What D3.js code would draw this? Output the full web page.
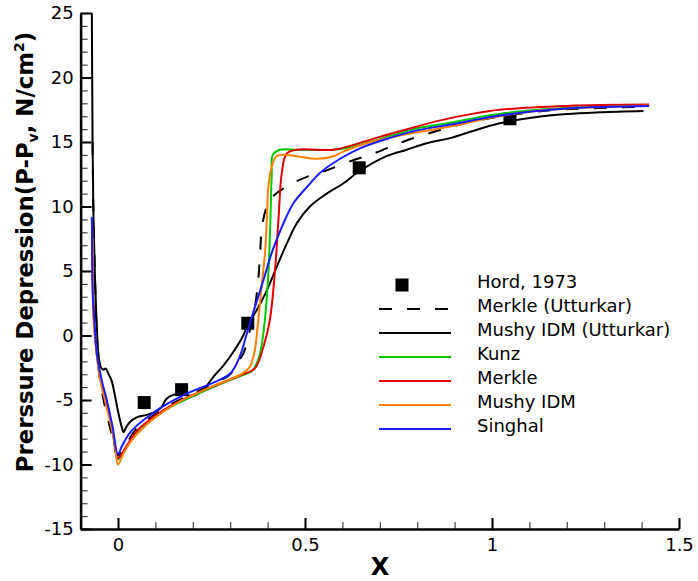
<!DOCTYPE html>
<html>
<head>
<meta charset="utf-8">
<script src="https://cdn.jsdelivr.net/npm/d3@7"></script>
<style>
  body { margin: 0; background: #fff; }
  svg { display: block; }
</style>
</head>
<body>
<svg id="chart" width="698" height="581"></svg>
<script>
// data, [x, pressure]
var hord = [[0.07, -5.2], [0.17, -4.2], [0.347, 0.95], [0.645, 13.0], [1.048, 16.8]];

var merkleUtt = [[-0.068, 15], [-0.066, 10], [-0.062, 5], [-0.058, 1], [-0.052, -2.5], [-0.04, -4.8],
  [-0.02, -7.3], [0, -9.3], [0.02, -8.5], [0.05, -7.2], [0.1, -6.1], [0.15, -5.2], [0.2, -4.5],
  [0.25, -3.8], [0.3, -3.0], [0.317, -2.2], [0.335, -1.4], [0.35, 0.1], [0.366, 2.2], [0.375, 4.3],
  [0.38, 6.4], [0.385, 8.4], [0.398, 10.0], [0.415, 10.8], [0.46, 11.7], [0.505, 12.3], [0.558, 12.8],
  [0.62, 13.5], [0.683, 14.1], [0.77, 15.1], [0.87, 16.0], [0.95, 16.6], [1.05, 17.1], [1.15, 17.45],
  [1.25, 17.6], [1.35, 17.7], [1.42, 17.75]];

var mushyUtt = [[-0.07, 25], [-0.069, 20], [-0.068, 15], [-0.066, 10], [-0.062, 5], [-0.057, 1],
  [-0.052, -1.5], [-0.045, -2.5], [-0.038, -2.65], [-0.033, -2.55], [-0.025, -3.0], [-0.017, -3.5],
  [-0.008, -4.7], [0.001, -6.0], [0.01, -7.1], [0.015, -7.5], [0.022, -7.1], [0.032, -6.7],
  [0.05, -6.35], [0.077, -6.15], [0.1, -5.9], [0.115, -5.6], [0.13, -4.9], [0.148, -4.6],
  [0.175, -4.5], [0.2, -4.7], [0.228, -4.2], [0.255, -3.2], [0.28, -2.4], [0.31, -1.2], [0.335, 0.0],
  [0.345, 0.7], [0.371, 1.98], [0.398, 3.5], [0.424, 5.3], [0.451, 7.1], [0.478, 8.7], [0.513, 10.0],
  [0.558, 11.0], [0.603, 11.8], [0.638, 12.6], [0.665, 13.1], [0.718, 13.9], [0.772, 14.4],
  [0.825, 14.9], [0.888, 15.3], [0.932, 15.7], [1.021, 16.45], [1.11, 16.9], [1.2, 17.17],
  [1.289, 17.3], [1.405, 17.4]];

var kunz = [[-0.069, 8.5], [-0.067, 4], [-0.064, 1.2], [-0.056, -1.6], [-0.045, -3.5], [-0.03, -5.3],
  [-0.015, -7.3], [0, -9.6], [0.02, -8.8], [0.05, -7.5], [0.1, -6.3], [0.15, -5.4], [0.2, -4.7],
  [0.25, -4.05], [0.3, -3.45], [0.335, -3.05], [0.36, -2.7], [0.378, -1.6], [0.39, 0.5], [0.398, 3],
  [0.404, 6], [0.408, 9.5], [0.411, 12.5], [0.414, 14.0], [0.433, 14.4], [0.478, 14.4], [0.576, 14.4],
  [0.62, 14.6], [0.709, 15.3], [0.8, 16.06], [0.888, 16.5], [1.0, 17.1], [1.1, 17.45], [1.2, 17.65],
  [1.3, 17.78], [1.42, 17.85]];

var merkle = [[-0.069, 8.5], [-0.067, 4], [-0.064, 1.3], [-0.056, -1.6], [-0.045, -3.5], [-0.03, -5.2],
  [-0.015, -7.2], [0, -9.5], [0.02, -8.7], [0.05, -7.4], [0.1, -6.2], [0.15, -5.3], [0.2, -4.6],
  [0.25, -4.0], [0.3, -3.4], [0.335, -3.0], [0.366, -2.55], [0.389, -0.87], [0.406, 1.2], [0.42, 5.1],
  [0.429, 8.95], [0.438, 12.6], [0.451, 14.1], [0.478, 14.4], [0.576, 14.4], [0.62, 14.7],
  [0.7, 15.4], [0.8, 16.2], [0.85, 16.6], [0.95, 17.2], [1.02, 17.5], [1.2, 17.8], [1.42, 17.9]];

var mushy = [[-0.068, 7.5], [-0.067, 4], [-0.066, 1.5], [-0.058, -1.2], [-0.048, -3.4], [-0.035, -5.0],
  [-0.02, -6.8], [-0.008, -8.5], [0, -10.0], [0.014, -9.2], [0.032, -8.3], [0.077, -6.9],
  [0.121, -5.9], [0.166, -5.1], [0.21, -4.5], [0.255, -3.9], [0.3, -3.4], [0.335, -2.9], [0.353, -2.4],
  [0.366, -1.1], [0.375, 1.2], [0.384, 3.8], [0.393, 6.4], [0.398, 8.95], [0.402, 11.5], [0.411, 13.1],
  [0.424, 13.9], [0.451, 14.0], [0.487, 13.85], [0.531, 13.7], [0.576, 13.9], [0.602, 14.25],
  [0.665, 14.9], [0.754, 15.5], [0.888, 16.2], [1.0, 16.9], [1.1, 17.35], [1.2, 17.6], [1.3, 17.72],
  [1.42, 17.82]];

var singhal = [[-0.07, 9.2], [-0.069, 6], [-0.068, 3.5], [-0.064, 1.5], [-0.056, -1.5], [-0.044, -3.4],
  [-0.03, -5.0], [-0.015, -7.0], [0, -9.2], [0.01, -8.6], [0.03, -7.6], [0.05, -7.0], [0.08, -6.3],
  [0.12, -5.5], [0.166, -4.75], [0.2, -4.3], [0.255, -3.65], [0.3, -2.95], [0.326, -1.6], [0.344, 0.1],
  [0.366, 2.2], [0.389, 4.3], [0.411, 6.4], [0.438, 8.4], [0.469, 10.25], [0.505, 11.5], [0.54, 12.6],
  [0.594, 13.7], [0.647, 14.5], [0.709, 15.15], [0.8, 15.9], [0.888, 16.35], [1.0, 16.95],
  [1.1, 17.35], [1.2, 17.6], [1.3, 17.72], [1.42, 17.8]];

var xTicks = [0, 0.5, 1, 1.5];
var yTicks = [-15, -10, -5, 0, 5, 10, 15, 20, 25];

var series = [
  { name: "Merkle (Utturkar)", data: merkleUtt, color: "#000", dash: "13,15" },
  { name: "Mushy IDM (Utturkar)", data: mushyUtt, color: "#000", dash: null },
  { name: "Kunz", data: kunz, color: "#00c800", dash: null },
  { name: "Merkle", data: merkle, color: "#e00000", dash: null },
  { name: "Mushy IDM", data: mushy, color: "#ff7f00", dash: null },
  { name: "Singhal", data: singhal, color: "#1a1aff", dash: null }
];

var svg = d3.select("#chart");
var font = "'DejaVu Sans', sans-serif";

var x = d3.scaleLinear().domain([-0.1, 1.5]).range([80.6, 679]);
var y = d3.scaleLinear().domain([-15, 25]).range([529, 13]);

// minor ticks
svg.append("g")
    .attr("transform", "translate(80.6,0)")
    .call(d3.axisLeft(y).tickValues(d3.range(-15, 26, 1)).tickSizeInner(-7).tickSizeOuter(0).tickFormat(""))
    .call(function(g) { g.select(".domain").remove(); })
    .selectAll("line").attr("stroke", "#444").attr("stroke-width", 1.2);

svg.append("g")
    .attr("transform", "translate(0,529)")
    .call(d3.axisBottom(x).tickValues(d3.range(-0.1, 1.51, 0.1)).tickSizeInner(-7).tickSizeOuter(0).tickFormat(""))
    .call(function(g) { g.select(".domain").remove(); })
    .selectAll("line").attr("stroke", "#444").attr("stroke-width", 1.2);

// major axes
var yAxis = svg.append("g")
    .attr("transform", "translate(80.6,0)")
    .call(d3.axisLeft(y).tickValues(yTicks).tickSizeInner(-11).tickSizeOuter(0).tickPadding(7)
      .tickFormat(function(d) { return String(d); }));

var xAxis = svg.append("g")
    .attr("transform", "translate(0,529)")
    .call(d3.axisBottom(x).tickValues(xTicks).tickSizeInner(-11).tickSizeOuter(0).tickPadding(9)
      .tickFormat(function(d) { return String(d); }));

[yAxis, xAxis].forEach(function(g) {
  g.select(".domain").attr("stroke-width", 2.5);
  g.selectAll(".tick line").attr("stroke-width", 2);
  g.selectAll(".tick text").attr("font-family", font).attr("font-size", 18).attr("fill", "#000");
});

// experiment
svg.append("g")
  .selectAll("rect")
  .data(hord)
  .enter().append("rect")
    .attr("x", function(d) { return x(d[0]) - 6.5; })
    .attr("y", function(d) { return y(d[1]) - 6.5; })
    .attr("width", 13)
    .attr("height", 13)
    .attr("fill", "#000");

var line = d3.line()
    .x(function(d) { return x(d[0]); })
    .y(function(d) { return y(d[1]); })
    .curve(d3.curveCatmullRom.alpha(0.5));

svg.append("g")
  .selectAll("path")
  .data(series)
  .enter().append("path")
    .attr("d", function(d) { return line(d.data); })
    .attr("fill", "none")
    .attr("stroke", function(d) { return d.color; })
    .attr("stroke-width", 2)
    .attr("stroke-dasharray", function(d) { return d.dash; });

// legend
var legend = svg.append("g").attr("font-family", font).attr("font-size", 18);
legend.append("rect").attr("x", 395.5).attr("y", 278.5).attr("width", 13).attr("height", 13).attr("fill", "#000");
legend.append("text").attr("x", 477).attr("y", 288).text("Hord, 1973");

series.forEach(function(s, i) {
  var ly = 309 + 24 * i;
  legend.append("line")
      .attr("x1", 379).attr("x2", 451).attr("y1", ly).attr("y2", ly)
      .attr("stroke", s.color).attr("stroke-width", 2)
      .attr("stroke-dasharray", s.dash);
  legend.append("text").attr("x", 477).attr("y", ly + 3).text(s.name);
});

// axis titles
svg.append("text")
    .attr("x", 380).attr("y", 575)
    .attr("text-anchor", "middle")
    .attr("font-family", font).attr("font-weight", "bold").attr("font-size", 24)
    .text("X");

var yTitle = svg.append("text")
    .attr("transform", "translate(33,252) rotate(-90)")
    .attr("text-anchor", "middle")
    .attr("font-family", font).attr("font-weight", "bold").attr("font-size", 22.8);
yTitle.append("tspan").text("Prerssure Depression(P-P");
yTitle.append("tspan").attr("font-size", 14).attr("dy", 5).text("v");
yTitle.append("tspan").attr("dy", -5).text(", N/cm");
yTitle.append("tspan").attr("font-size", 14).attr("dy", -9).text("2");
yTitle.append("tspan").attr("dy", 9).text(")");
</script>
</body>
</html>
